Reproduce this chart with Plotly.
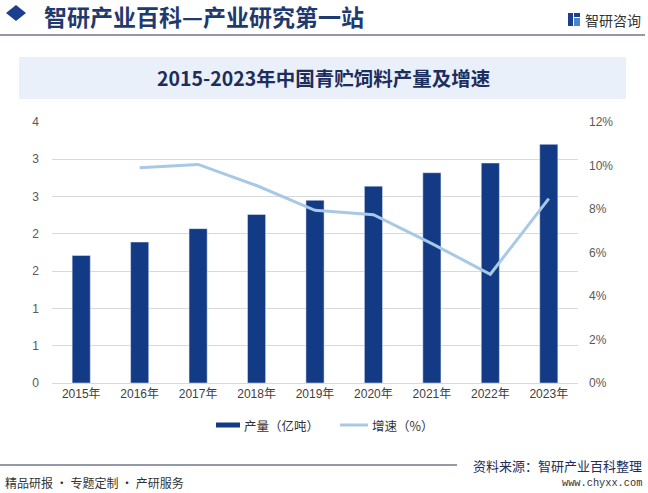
import plotly.graph_objects as go

years = ["2015年", "2016年", "2017年", "2018年", "2019年", "2020年", "2021年", "2022年", "2023年"]
output = [1.71, 1.89, 2.07, 2.26, 2.45, 2.64, 2.82, 2.95, 3.20]
growth = [None, 9.90, 10.05, 9.08, 7.94, 7.74, 6.41, 5.00, 8.48]
left_ticks = [0, 0.5, 1, 1.5, 2, 2.5, 3, 3.5]
left_text = ["0", "1", "1", "2", "2", "3", "3", "4"]
right_ticks = [0, 2, 4, 6, 8, 10, 12]
right_text = ["0%", "2%", "4%", "6%", "8%", "10%", "12%"]

W, H = 648, 493
ML, MR, MT, MB = 52, 70, 122, 110
PW, PH = W - ML - MR, H - MT - MB

def px(x):
    return (x - ML) / PW

def py(y):
    return (H - MB - y) / PH

BAR = "#133a85"
LINE = "#a8c9e6"
TXT = "#595959"
NAVY = "#1f3a6e"
FONT = "Liberation Sans, Noto Sans CJK SC, sans-serif"
CJK = "Noto Sans CJK SC, sans-serif"

fig = go.Figure()
fig.add_trace(go.Bar(x=years, y=output, name="产量（亿吨）", marker_color=BAR,
                     width=0.31, yaxis="y"))
fig.add_trace(go.Scatter(x=years, y=growth, name="增速（%）", mode="lines",
                         line=dict(color=LINE, width=3), yaxis="y2"))

shapes = [
    dict(type="line", xref="paper", yref="paper", x0=px(0), x1=px(645), y0=py(35), y1=py(35),
         line=dict(color="#2b3550", width=1.2)),
    dict(type="rect", xref="paper", yref="paper", x0=px(19), x1=px(626), y0=py(57), y1=py(99),
         fillcolor="#e9f0f9", line=dict(width=0), layer="below"),
    dict(type="path", xref="paper", yref="paper",
         path=f"M {px(6)} {py(13)} L {px(16)} {py(5)} L {px(26)} {py(13)} L {px(16)} {py(21)} Z",
         fillcolor="#1d3f8f", line=dict(width=0)),
    dict(type="line", xref="paper", yref="paper", x0=px(0), x1=px(457), y0=py(465), y1=py(465),
         line=dict(color="#2b3550", width=1.2)),
    dict(type="rect", xref="paper", yref="paper", x0=px(216), x1=px(240), y0=py(427.5), y1=py(422.5),
         fillcolor=BAR, line=dict(width=0)),
    dict(type="line", xref="paper", yref="paper", x0=px(340), x1=px(368), y0=py(425), y1=py(425),
         line=dict(color=LINE, width=3)),
    dict(type="rect", xref="paper", yref="paper", x0=px(568), x1=px(573), y0=py(26), y1=py(13),
         fillcolor="#1d3f8f", line=dict(width=0)),
    dict(type="rect", xref="paper", yref="paper", x0=px(574), x1=px(580), y0=py(26), y1=py(18),
         fillcolor="#4a86d0", line=dict(width=0)),
    dict(type="rect", xref="paper", yref="paper", x0=px(574), x1=px(580), y0=py(17), y1=py(13),
         fillcolor="#1d3f8f", line=dict(width=0)),
]

annotations = [
    dict(text="<b>智研产业百科—产业研究第一站</b>", x=px(42), y=py(16), xanchor="left", yanchor="middle",
         font=dict(family=CJK, size=23, color=NAVY)),
    dict(text="智研咨询", x=px(643), y=py(20), xanchor="right", yanchor="middle",
         font=dict(family=CJK, size=14, color="#333")),
    dict(text="<b>2015-2023年中国青贮饲料产量及增速</b>", x=px(323), y=py(78), xanchor="center", yanchor="middle",
         font=dict(family=CJK, size=19.5, color="#1d2d5c")),
    dict(text="产量（亿吨）", x=px(242), y=py(425), xanchor="left", yanchor="middle",
         font=dict(family=CJK, size=12.5, color="#333")),
    dict(text="增速（%）", x=px(370), y=py(425), xanchor="left", yanchor="middle",
         font=dict(family=CJK, size=12.5, color="#333")),
    dict(text="资料来源：智研产业百科整理", x=px(644), y=py(465), xanchor="right", yanchor="middle",
         font=dict(family=CJK, size=13, color="#1d2d5c")),
    dict(text="www.chyxx.com", x=px(644), y=py(483), xanchor="right", yanchor="middle",
         font=dict(family="Liberation Mono, monospace", size=10.3, color="#333")),
    dict(text="精品研报 · 专题定制 · 产研服务", x=px(3), y=py(482), xanchor="left", yanchor="middle",
         font=dict(family=CJK, size=12, color="#333")),
]
for a in annotations:
    a.update(xref="paper", yref="paper", showarrow=False)

fig.update_layout(
    width=W, height=H,
    margin=dict(l=ML, r=MR, t=MT, b=MB, autoexpand=False),
    paper_bgcolor="white", plot_bgcolor="white",
    showlegend=False,
    font=dict(family=FONT, size=12, color=TXT),
    xaxis=dict(type="category", showgrid=False, showline=True, linecolor="#d9d9d9",
               ticks="", tickfont=dict(family=FONT, size=12, color="#404040")),
    yaxis=dict(range=[0, 3.5], tickvals=left_ticks, ticktext=left_text, showgrid=True,
               gridcolor="#d9d9d9", zeroline=False, ticks="", ticklabelstandoff=12,
               tickfont=dict(size=12, color=TXT)),
    yaxis2=dict(range=[0, 12], tickvals=right_ticks, ticktext=right_text, overlaying="y", side="right",
                showgrid=False, zeroline=False, ticks="", ticklabelstandoff=10,
                tickfont=dict(size=12, color=TXT)),
    shapes=shapes, annotations=annotations,
)

fig.write_html("out.html", config={"displayModeBar": False},
               post_script="document.body.style.margin='0px';document.body.style.overflow='hidden';")
